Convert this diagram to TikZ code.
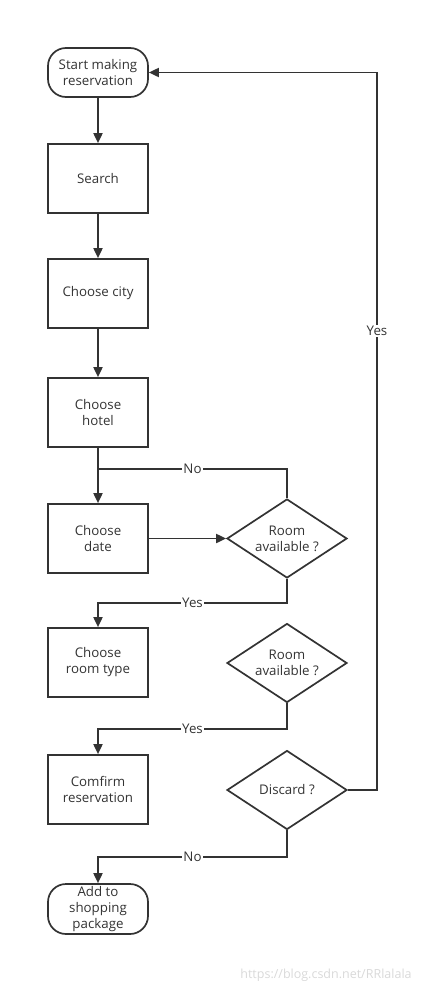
\documentclass[tikz,border=0pt]{standalone}
\usepackage{fontspec}
\setmainfont{Open Sans}
\usetikzlibrary{shapes.geometric,arrows.meta}
\definecolor{ink}{HTML}{333333}
\begin{document}
\begin{tikzpicture}[x=1pt,y=-1pt,
  every node/.style={font=\fontsize{13.3}{16}\selectfont,text=ink},
  proc/.style={draw=ink,line width=1.7pt,minimum width=100pt,minimum height=69pt,align=center,inner sep=2pt},
  term/.style={draw=ink,line width=1.7pt,minimum width=100pt,minimum height=49pt,rounded corners=18pt,align=center,inner sep=0pt},
  dec/.style={draw=ink,line width=1.7pt,diamond,shape aspect=1.52,minimum width=120pt,minimum height=79pt,inner sep=0pt,align=center},
  conn/.style={draw=ink,line width=1.8pt},
  arr/.style={conn,-{Triangle[length=10pt,width=9pt]}},
  lab/.style={fill=white,inner sep=1pt}]
\useasboundingbox (0,0) rectangle (439,996);
\node[term] (start) at (98,72.5) {Start making\\reservation};
\node[proc] (search) at (98,178.5) {Search};
\node[proc] (city) at (98,293.5) {Choose city};
\node[proc] (hotel) at (98,412.5) {Choose\\hotel};
\node[proc] (date) at (98,538.5) {Choose\\date};
\node[proc] (room) at (98,662.5) {Choose\\room type};
\node[proc] (confirm) at (98,789.5) {Comfirm\\reservation};
\node[term,minimum height=50pt,text height=0pt,text depth=0pt] (add) at (98,909) {};
\node[align=center] (addtxt) at (98,909) {Add to\\shopping\\package};
\node[dec] (d1) at (287,538.5) {Room\\available ?};
\node[dec] (d2) at (287,663) {Room\\available ?};
\node[dec] (d3) at (287,790) {Discard ?};
\coordinate (j1) at (98,469);
\coordinate (n1) at (287,469);
\coordinate (y1a) at (287,603);
\coordinate (y1b) at (98,603);
\coordinate (y2a) at (287,729);
\coordinate (y2b) at (98,729);
\coordinate (n3a) at (287,857);
\coordinate (n3b) at (98,857);
\coordinate (r1) at (377,790);
\coordinate (r2) at (377,72.5);
\draw[arr] (start) -- (search);
\draw[arr] (search) -- (city);
\draw[arr] (city) -- (hotel);
\draw[arr] (hotel) -- (date);
\draw[arr] (date) -- (d1);
\draw[conn] (d1.north) -- (n1) -- node[lab,pos=0.5]{No} (j1);
\draw[arr] (d1.south) -- (y1a) -- node[lab]{Yes} (y1b) -- (room);
\draw[arr] (d2.south) -- (y2a) -- node[lab]{Yes} (y2b) -- (confirm);
\draw[arr] (d3.south) -- (n3a) -- node[lab]{No} (n3b) -- (add);
\draw[arr] (d3.east) -- (r1) -- node[lab,pos=0.64]{Yes} (r2) -- (start.east);
\node[text=black!15,font=\fontsize{12.5}{14}\selectfont] (wm) at (326,975) {https://blog.csdn.net/RRlalala};
\end{tikzpicture}
\end{document}
